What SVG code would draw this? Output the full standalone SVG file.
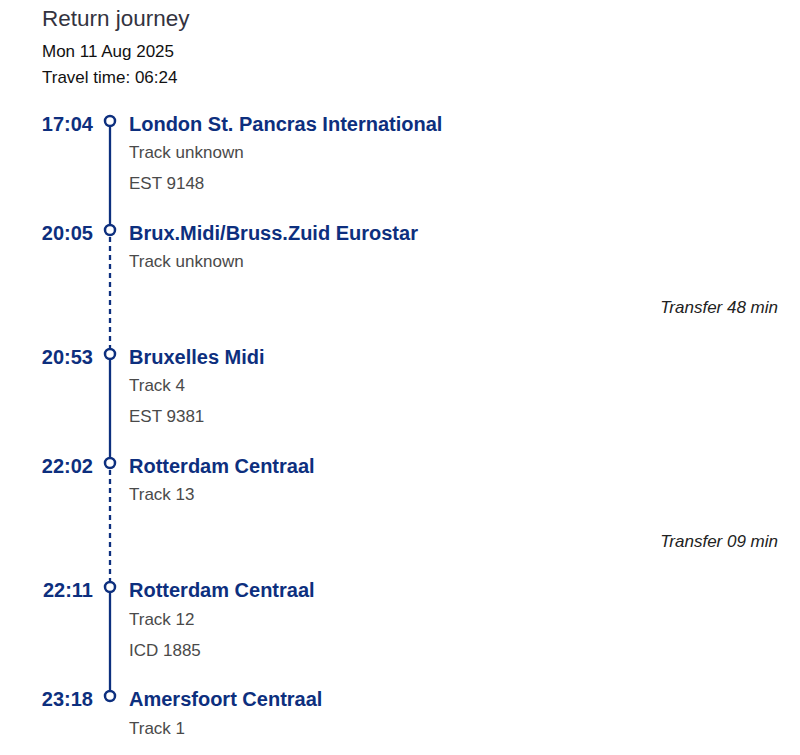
<svg xmlns="http://www.w3.org/2000/svg" width="800" height="755" viewBox="0 0 800 755">
<style>
.h{font-family:"Liberation Sans",Arial,sans-serif;font-size:22.5px;fill:#333340}
.d{font-family:"Liberation Sans",Arial,sans-serif;font-size:17px;fill:#111}
.t{font-family:"Liberation Sans",Arial,sans-serif;font-size:20px;font-weight:bold;fill:#0d2f7e;text-anchor:end}
.s{font-family:"Liberation Sans",Arial,sans-serif;font-size:20px;font-weight:bold;fill:#0d2f7e}
.i{font-family:"Liberation Sans",Arial,sans-serif;font-size:17px;fill:#4a4a4a}
.x{font-family:"Liberation Sans",Arial,sans-serif;font-size:17px;font-style:italic;fill:#222;text-anchor:end}
.l{stroke:#0d2f7e;stroke-width:2.3;fill:none}
.dash{stroke-dasharray:5 4}
.c{fill:#fff;stroke:#0d2f7e;stroke-width:2.5}
</style>
<g id="header">
<text class="h" x="42" y="26">Return journey</text>
<text class="d" x="42" y="57">Mon 11 Aug 2025</text>
<text class="d" x="42" y="82.5">Travel time: 06:24</text>
</g>
<g id="connectors">
<line class="l" x1="110" y1="121" x2="110" y2="230"/>
<line class="l dash" x1="110" y1="237" x2="110" y2="348"/>
<line class="l" x1="110" y1="354" x2="110" y2="463"/>
<line class="l dash" x1="110" y1="470" x2="110" y2="581"/>
<line class="l" x1="110" y1="587" x2="110" y2="696"/>
</g>
<g id="stop1">
<circle class="c" cx="110" cy="121" r="5"/>
<text class="t" x="93" y="131">17:04</text>
<text class="s" x="129" y="131">London St. Pancras International</text>
<text class="i" x="129" y="158">Track unknown</text>
<text class="i" x="129" y="189">EST 9148</text>
</g>
<g id="stop2">
<circle class="c" cx="110" cy="230" r="5"/>
<text class="t" x="93" y="240">20:05</text>
<text class="s" x="129" y="240">Brux.Midi/Bruss.Zuid Eurostar</text>
<text class="i" x="129" y="267">Track unknown</text>
</g>
<g id="transfer1">
<text class="x" x="778" y="313">Transfer 48 min</text>
</g>
<g id="stop3">
<circle class="c" cx="110" cy="354" r="5"/>
<text class="t" x="93" y="364">20:53</text>
<text class="s" x="129" y="364">Bruxelles Midi</text>
<text class="i" x="129" y="391">Track 4</text>
<text class="i" x="129" y="422">EST 9381</text>
</g>
<g id="stop4">
<circle class="c" cx="110" cy="463" r="5"/>
<text class="t" x="93" y="473">22:02</text>
<text class="s" x="129" y="473">Rotterdam Centraal</text>
<text class="i" x="129" y="500">Track 13</text>
</g>
<g id="transfer2">
<text class="x" x="778" y="547">Transfer 09 min</text>
</g>
<g id="stop5">
<circle class="c" cx="110" cy="587" r="5"/>
<text class="t" x="93" y="597">22:11</text>
<text class="s" x="129" y="597">Rotterdam Centraal</text>
<text class="i" x="129" y="625">Track 12</text>
<text class="i" x="129" y="656">ICD 1885</text>
</g>
<g id="stop6">
<circle class="c" cx="110" cy="696" r="5"/>
<text class="t" x="93" y="706">23:18</text>
<text class="s" x="129" y="706">Amersfoort Centraal</text>
<text class="i" x="129" y="734">Track 1</text>
</g>
</svg>
